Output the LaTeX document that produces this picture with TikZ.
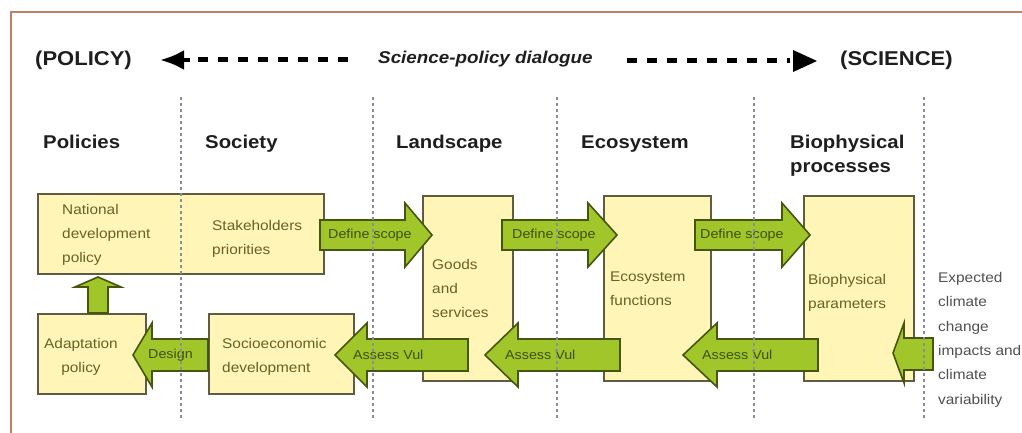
\documentclass[tikz,border=0pt]{standalone}
\usepackage{fontspec}
\setmainfont{Liberation Sans}[FakeStretch=1.1]
\usetikzlibrary{arrows.meta}
\definecolor{framec}{RGB}{192,128,104}
\definecolor{boxfill}{RGB}{255,245,182}
\definecolor{boxedge}{RGB}{95,92,65}
\definecolor{agreen}{RGB}{160,198,42}
\definecolor{aedge}{RGB}{70,85,15}
\definecolor{atext}{RGB}{62,80,14}
\definecolor{btext}{RGB}{100,99,40}
\definecolor{vline}{RGB}{135,142,160}
\definecolor{htext}{RGB}{30,30,30}
\definecolor{ctext}{RGB}{80,80,80}
\tikzset{
  ybox/.style={draw=boxedge, fill=boxfill, line width=1.8pt, inner sep=0pt, anchor=north west},
  barrow/.style={draw=aedge, fill=agreen, line width=1.6pt, line join=miter},
  alabel/.style={anchor=west, inner sep=0pt, text=atext, font=\fontsize{13}{15}\selectfont},
  btxt/.style={inner sep=0pt, text=btext, align=left, anchor=north west, font=\fontsize{14}{24}\selectfont},
  ctxt/.style={inner sep=0pt, text=ctext, align=left, anchor=north west, font=\fontsize{14}{24.4}\selectfont},
  hdr/.style={inner sep=0pt, text=htext, font=\bfseries\fontsize{20}{22}\selectfont},
  colhdr/.style={inner sep=0pt, text=htext, align=left, anchor=base west, font=\bfseries\fontsize{18.5}{24}\selectfont},
  vdash/.style={draw=vline, line width=1.3pt, dash pattern=on 3pt off 3pt},
  hdash/.style={draw=black, line width=5pt, dash pattern=on 10pt off 10pt}
}
\newcommand\rblock[3]{%
  \draw[barrow] (#1,220) -- (#2,220) -- (#2,203) -- (#3,235) -- (#2,267) -- (#2,250) -- (#1,250) -- cycle;}
\newcommand\lblock[3]{%
  \draw[barrow] (#1,355) -- (#2,323) -- (#2,339) -- (#3,339) -- (#3,371) -- (#2,371) -- (#2,387) -- cycle;}
\begin{document}
\begin{tikzpicture}[x=1pt,y=-1pt]
\useasboundingbox (0,0) rectangle (1022,433);
\fill[white] (0,0) rectangle (1022,433);
% frame
\draw[framec, line width=2.5pt] (11,433) -- (11,12) -- (1022,12);

% header
\node[hdr, anchor=west] (pol) at (35,60) {(POLICY)};
\node[hdr, anchor=west, font=\bfseries\itshape\fontsize{17.1}{20}\selectfont] (spd) at (378,59) {Science-policy dialogue};
\node[hdr, anchor=west] (sci) at (840,60) {(SCIENCE)};
\coordinate (dl1) at (198,60);
\coordinate (dl2) at (348,60);
\coordinate (dr1) at (627,61);
\coordinate (dr2) at (790,61);
\draw[hdash] (dl1) -- (dl2);
\draw[line width=4pt, -{Latex[length=24pt,width=20pt]}] (190,60) -- (160,60);
\draw[hdash] (dr1) -- (dr2);
\fill (793,50) -- (817,61) -- (793,72) -- cycle;

% column headers
\node[colhdr] (hpol) at (43,148) {Policies};
\node[colhdr] (hsoc) at (205,148) {Society};
\node[colhdr] (hlan) at (396,148) {Landscape};
\node[colhdr] (heco) at (581,148) {Ecosystem};
\node[colhdr, anchor=north west] (hbio) at (790,134.5) {Biophysical\\processes};

% boxes
\node[ybox, minimum width=286pt, minimum height=80pt] (top) at (37,193) {};
\node[ybox, minimum width=108pt, minimum height=80pt] (adapt) at (37,313) {};
\node[ybox, minimum width=145pt, minimum height=80pt] (socio) at (208,313) {};
\node[ybox, minimum width=90pt, minimum height=185pt] (goods) at (422,195) {};
\node[ybox, minimum width=107pt, minimum height=185pt] (ecof) at (603,195) {};
\node[ybox, minimum width=110pt, minimum height=185pt] (biop) at (803,195) {};

% box texts
\node[btxt] (tnat) at (62,204) {National\\development\\policy};
\node[btxt] (tsta) at (212,220) {Stakeholders\\priorities};
\node[btxt, align=center, anchor=north] (tada) at (81,338) {Adaptation\\policy};
\node[btxt] (tsoc) at (222,338) {Socioeconomic\\development};
\node[btxt] (tgoo) at (432,259) {Goods\\and\\services};
\node[btxt] (teco) at (610,272) {Ecosystem\\functions};
\node[btxt] (tbio) at (808,274) {Biophysical\\parameters};
\node[ctxt] (tcli) at (938,272) {Expected\\climate\\change\\impacts and\\climate\\variability};

% block arrows: define scope
\rblock{320}{405}{432}
\rblock{502}{588}{617}
\rblock{695}{782}{810}
\node[alabel] (ds1) at (328,235) {Define scope};
\node[alabel] (ds2) at (512,235) {Define scope};
\node[alabel] (ds3) at (700,235) {Define scope};

% block arrows: assess vulnerability
\lblock{335}{367}{468}
\lblock{485}{518}{620}
\lblock{683}{717}{818}
\lblock{133}{152}{208}
\node[alabel] (av1) at (353,355) {Assess Vul};
\node[alabel] (av2) at (505,355) {Assess Vul};
\node[alabel] (av3) at (702,355) {Assess Vul};
\node[alabel] (des) at (148,355) {Design};

% climate arrow
\draw[barrow] (893,353) -- (904,323) -- (904,338) -- (933,338) -- (933,370) -- (904,370) -- (904,383) -- cycle;

% up arrow
\draw[barrow] (98,277) -- (121,287) -- (108,287) -- (108,313) -- (88,313) -- (88,287) -- (75,287) -- cycle;

% vertical dashed lines
\foreach \xx/\nm in {181/v1,373/v2,557/v3,754/v4,924/v5}{
  \coordinate (\nm a) at (\xx,97);
  \coordinate (\nm b) at (\xx,420);
  \draw[vdash] (\nm a) -- (\nm b);
}
\end{tikzpicture}
\end{document}
